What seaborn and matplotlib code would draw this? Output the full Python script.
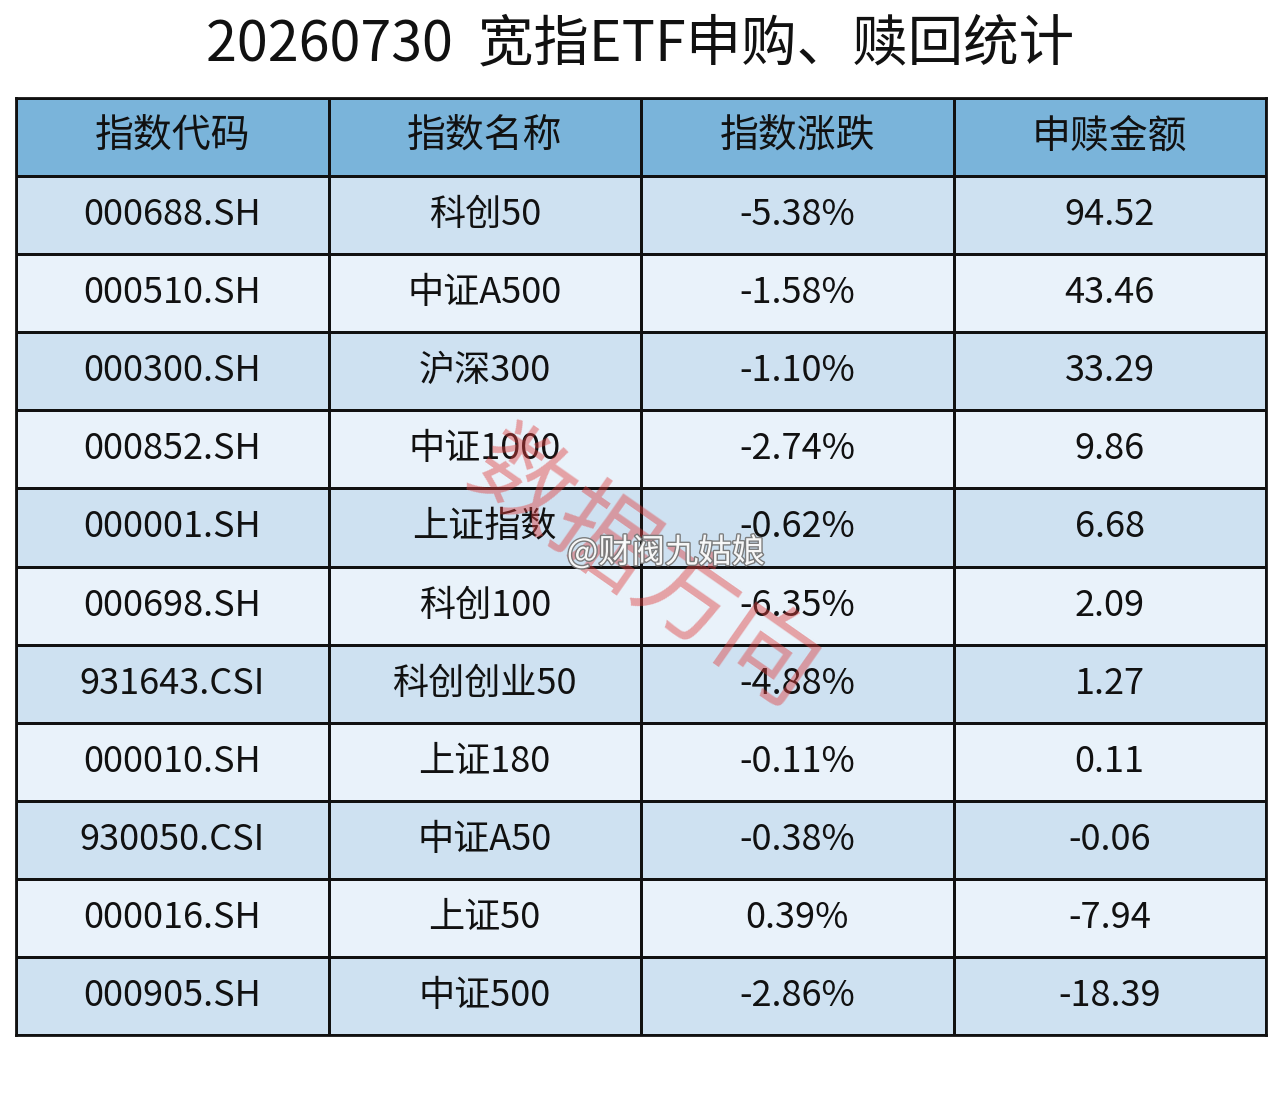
import numpy as np
import matplotlib
matplotlib.use("Agg")
import matplotlib.pyplot as plt
import matplotlib.patheffects as pe
from matplotlib.colors import ListedColormap
import seaborn as sns

title = "20260730  宽指ETF申购、赎回统计"
headers = ["指数代码", "指数名称", "指数涨跌", "申赎金额"]
codes = ["000688.SH", "000510.SH", "000300.SH", "000852.SH", "000001.SH", "000698.SH",
         "931643.CSI", "000010.SH", "930050.CSI", "000016.SH", "000905.SH"]
names = ["科创50", "中证A500", "沪深300", "中证1000", "上证指数", "科创100",
         "科创创业50", "上证180", "中证A50", "上证50", "中证500"]
changes = [-5.38, -1.58, -1.10, -2.74, -0.62, -6.35, -4.88, -0.11, -0.38, 0.39, -2.86]
flows = [94.52, 43.46, 33.29, 9.86, 6.68, 2.09, 1.27, 0.11, -0.06, -7.94, -18.39]

sns.set_theme(style="white")
plt.rcParams['font.family'] = ['Noto Sans CJK SC', 'DejaVu Sans']

n = len(codes)
# 0 = header, 1 = darker stripe, 2 = lighter stripe
kind = np.zeros((n + 1, 4))
for i in range(n):
    kind[i + 1, :] = 1 if i % 2 == 0 else 2

labels = [headers]
for c, nm, ch, fl in zip(codes, names, changes, flows):
    labels.append([c, nm, f"{ch:.2f}%", f"{fl:.2f}"])
labels = np.array(labels)

cmap = ListedColormap(["#7ab4da", "#cee1f1", "#e9f2fa"])

fig = plt.figure(figsize=(12.8, 11.05), dpi=100)
ax = fig.add_axes([16 / 1280, 70 / 1105, 1250 / 1280, 937 / 1105])
sns.heatmap(kind, ax=ax, cmap=cmap, vmin=-0.5, vmax=2.5, cbar=False,
            annot=labels, fmt="", linewidths=2, linecolor="#111111",
            annot_kws={"fontsize": 26, "color": "#111111"})
ax.set_xticks([])
ax.set_yticks([])
for s in ax.spines.values():
    s.set_visible(True)
    s.set_linewidth(2)
    s.set_color("#111111")
for t in ax.texts[:4]:
    t.set_fontsize(28)

fig.text(0.5, 1 - 45 / 1105, title, ha="center", va="center", fontsize=40, color="#111111")

# watermarks
fig.text(642 / 1280, 1 - 572 / 1105, "数据方向", ha="center", va="center", fontsize=72,
         color="#e04040", alpha=0.45, rotation=-35)
fig.text(666 / 1280, 1 - 553 / 1105, "@财阀九姑娘", ha="center", va="center", fontsize=24,
         color="white", alpha=0.95,
         path_effects=[pe.withStroke(linewidth=2, foreground="#777777")])

fig.savefig("out.png", dpi=100, facecolor="white")
